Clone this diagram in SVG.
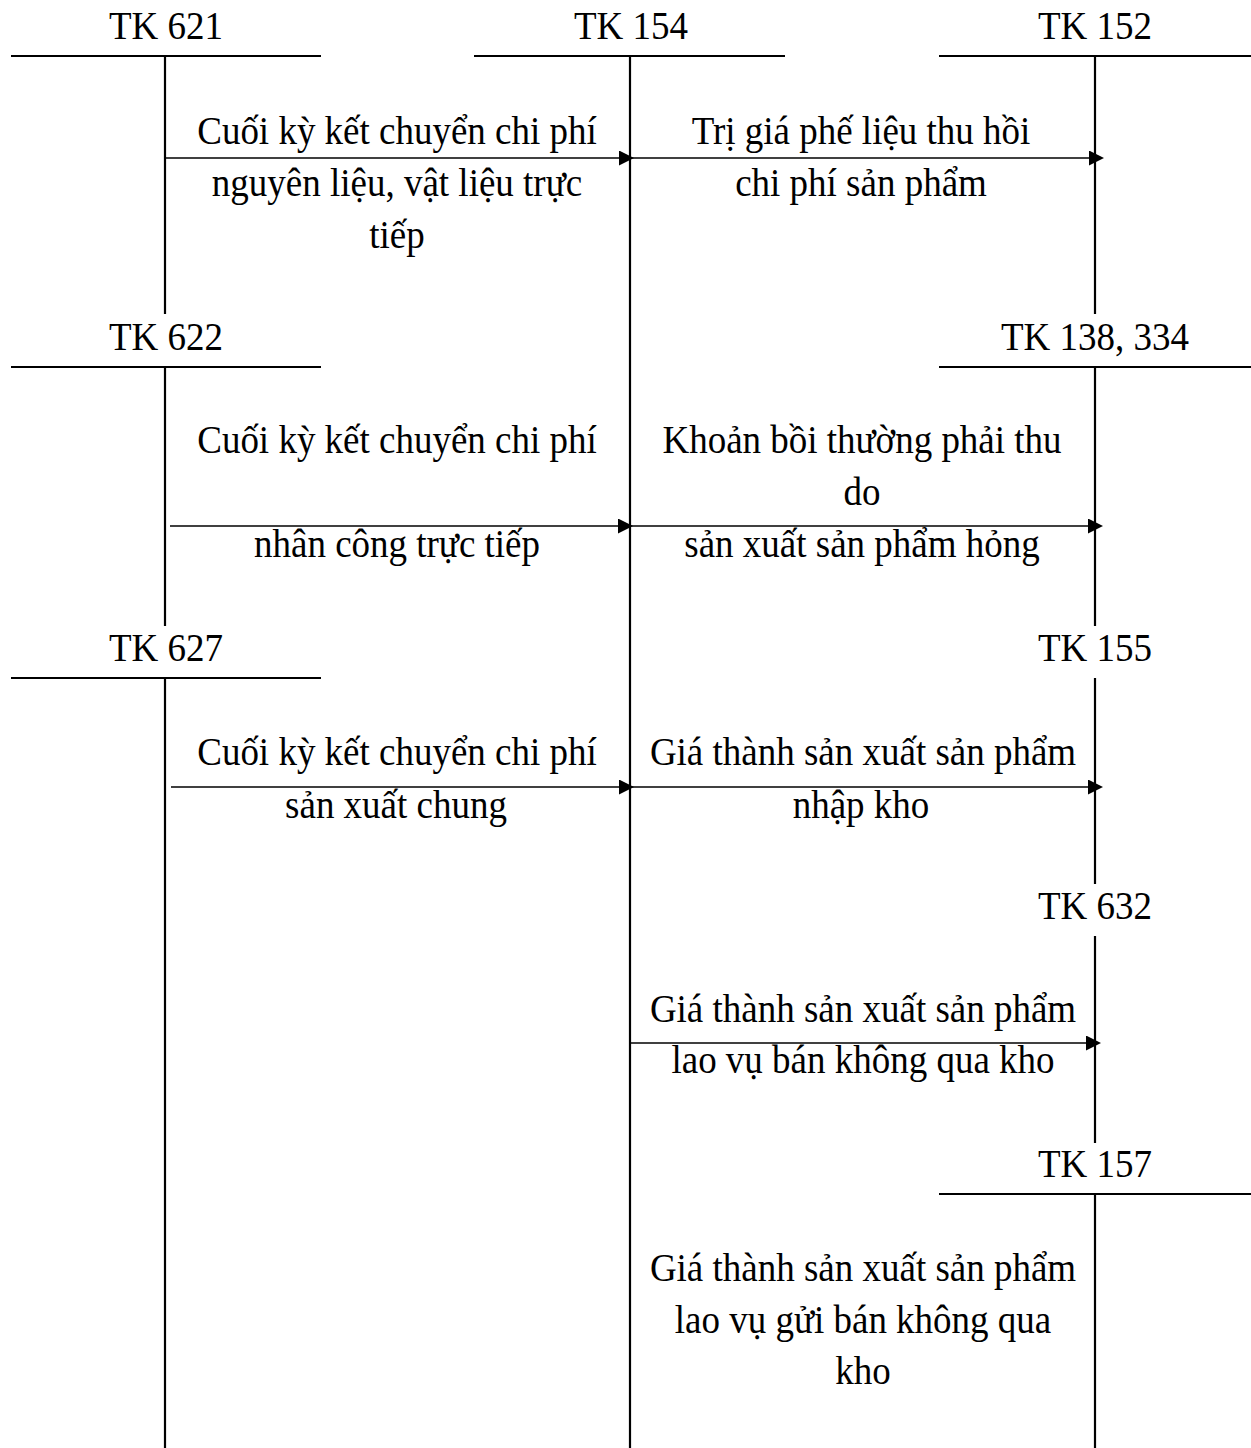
<svg xmlns="http://www.w3.org/2000/svg" width="1251" height="1448" viewBox="0 0 1251 1448">
<style>
text{font-family:"Liberation Serif","Times New Roman",serif;font-size:37px;fill:#000;text-anchor:middle}
.t{stroke:#000;stroke-width:2.2;fill:none}
.a{stroke:#000;stroke-width:1.7;fill:none;marker-end:url(#ah)}
</style>
<defs>
<marker id="ah" viewBox="0 0 15 15" refX="13" refY="7.5" markerWidth="15" markerHeight="15" markerUnits="userSpaceOnUse" orient="auto">
<path d="M0,0 L15,7.5 L0,15 Z" fill="#000"/>
</marker>
</defs>
<rect width="1251" height="1448" fill="#fff"/>
<g id="tk621"><text transform="translate(166,39) scale(1,1.06)">TK 621</text><path class="t" d="M11,56H321M165,56V314"/></g>
<g id="tk154"><text transform="translate(631,39) scale(1,1.06)">TK 154</text><path class="t" d="M474,56H785M630,56V1448"/></g>
<g id="tk152"><text transform="translate(1095,39) scale(1,1.06)">TK 152</text><path class="t" d="M939,56H1251M1095,56V314"/></g>
<g id="tk622"><text transform="translate(166,350) scale(1,1.06)">TK 622</text><path class="t" d="M11,367H321M165,367V626"/></g>
<g id="tk138"><text transform="translate(1095,350) scale(1,1.06)">TK 138, 334</text><path class="t" d="M939,367H1251M1095,367V626"/></g>
<g id="tk627"><text transform="translate(166,661) scale(1,1.06)">TK 627</text><path class="t" d="M11,678H321M165,678V1448"/></g>
<g id="tk155"><text transform="translate(1095,661) scale(1,1.06)">TK 155</text><path class="t" d="M1095,678V884"/></g>
<g id="tk632"><text transform="translate(1095,919) scale(1,1.06)">TK 632</text><path class="t" d="M1095,936V1143"/></g>
<g id="tk157"><text transform="translate(1095,1177) scale(1,1.06)">TK 157</text><path class="t" d="M939,1194H1251M1095,1194V1448"/></g>
<g id="connectors">
<path class="a" d="M165,158H632"/>
<path class="a" d="M630,158H1102"/>
<path class="a" d="M170,526H631"/>
<path class="a" d="M630,526H1101"/>
<path class="a" d="M171,787H632"/>
<path class="a" d="M630,787H1101"/>
<path class="a" d="M630,1043H1099"/>
</g>
<g id="labels">
<text transform="translate(397,144) scale(1,1.06)">Cuối kỳ kết chuyển chi phí</text>
<text transform="translate(397,196) scale(1,1.06)">nguyên liệu, vật liệu trực</text>
<text transform="translate(397,248) scale(1,1.06)">tiếp</text>
<text transform="translate(861,144) scale(1,1.06)">Trị giá phế liệu thu hồi</text>
<text transform="translate(861,196) scale(1,1.06)">chi phí sản phẩm</text>
<text transform="translate(397,453) scale(1,1.06)">Cuối kỳ kết chuyển chi phí</text>
<text transform="translate(397,557) scale(1,1.06)">nhân công trực tiếp</text>
<text transform="translate(862,453) scale(1,1.06)">Khoản bồi thường phải thu</text>
<text transform="translate(862,505) scale(1,1.06)">do</text>
<text transform="translate(862,557) scale(1,1.06)">sản xuất sản phẩm hỏng</text>
<text transform="translate(397,765) scale(1,1.06)">Cuối kỳ kết chuyển chi phí</text>
<text transform="translate(396,818) scale(1,1.06)">sản xuất chung</text>
<text transform="translate(863,765) scale(1,1.06)">Giá thành sản xuất sản phẩm</text>
<text transform="translate(861,818) scale(1,1.06)">nhập kho</text>
<text transform="translate(863,1022) scale(1,1.06)">Giá thành sản xuất sản phẩm</text>
<text transform="translate(863,1073) scale(1,1.06)">lao vụ bán không qua kho</text>
<text transform="translate(863,1281) scale(1,1.06)">Giá thành sản xuất sản phẩm</text>
<text transform="translate(863,1333) scale(1,1.06)">lao vụ gửi bán không qua</text>
<text transform="translate(863,1384) scale(1,1.06)">kho</text>
</g>
</svg>
